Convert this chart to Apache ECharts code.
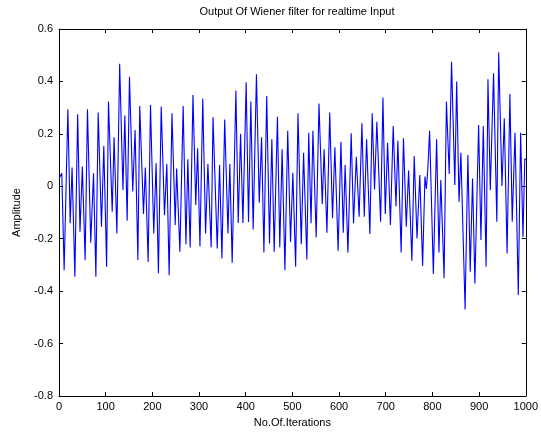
<!DOCTYPE html>
<html>
<head>
<meta charset="utf-8">
<script src="https://cdn.jsdelivr.net/npm/echarts@6/dist/echarts.min.js"></script>
<style>html,body{margin:0;padding:0;background:#fff}#c{width:541px;height:438px}</style>
</head>
<body>
<div id="c"></div>
<script>
var titleText = "Output Of Wiener filter for realtime Input";
var xLabel = "No.Of.Iterations";
var yLabel = "Amplitude";
var xTicks = [0,100,200,300,400,500,600,700,800,900,1000];
var yTicks = [-0.8,-0.6,-0.4,-0.2,0,0.2,0.4,0.6];

var iterations = [0,6,11,19,24,28,34,40,45,50,56,61,68,74,79,84,91,96,102,106,114,118,124,130,137,141,146,151,158,163,169,173,181,185,191,196,203,208,213,219,226,231,236,242,249,252,259,266,272,276,281,287,293,297,302,308,314,319,326,330,339,344,349,355,362,366,371,379,384,389,394,401,406,411,416,423,429,434,439,445,451,456,461,468,473,478,484,490,496,501,507,512,519,524,531,535,540,544,551,557,564,568,574,580,586,591,598,604,609,613,619,626,631,637,643,649,654,659,666,671,676,681,689,694,699,704,710,716,722,726,733,738,744,749,756,761,767,773,779,784,787,790,794,802,809,814,818,825,830,836,841,848,852,857,861,870,876,881,886,891,899,904,909,915,919,924,931,938,942,949,954,960,966,971,977,984,989,994,998,1000];
var amplitude = [0.03,0.05,-0.32,0.294,-0.141,0.072,-0.345,0.275,-0.173,0.075,-0.281,0.294,-0.215,0.05,-0.345,0.281,-0.154,0.154,-0.307,0.323,-0.097,0.187,-0.18,0.467,-0.014,0.27,-0.131,0.418,-0.02,0.215,-0.281,0.306,-0.106,0.072,-0.289,0.31,-0.18,0.088,-0.332,0.304,-0.11,0.085,-0.339,0.279,-0.148,0.068,-0.25,0.306,-0.221,0.103,-0.233,0.348,-0.071,0.145,-0.23,0.335,-0.18,0.085,-0.233,0.263,-0.237,0.081,-0.275,0.255,-0.18,0.085,-0.292,0.365,-0.14,0.2,-0.14,0.397,-0.136,0.323,-0.165,0.427,-0.063,0.187,-0.253,0.344,-0.218,0.179,-0.25,0.265,-0.233,0.141,-0.32,0.212,-0.212,0.052,-0.307,0.279,-0.221,0.128,-0.279,0.204,-0.141,0.212,-0.195,0.316,-0.068,0.141,-0.177,0.281,-0.122,0.149,-0.246,0.17,-0.177,0.081,-0.253,0.202,-0.141,0.113,-0.116,0.24,-0.116,0.179,-0.182,0.279,-0.012,0.246,-0.135,0.339,-0.106,0.166,-0.148,0.23,-0.076,0.174,-0.253,0.183,-0.154,0.06,-0.284,0.115,-0.199,0.043,-0.304,0.037,-0.01,0.06,0.212,-0.335,0.179,-0.253,0.024,-0.351,0.323,0.047,0.475,0.005,0.4,-0.059,0.128,-0.47,0.119,-0.326,0.03,-0.371,0.234,-0.205,0.23,-0.307,0.408,-0.014,0.431,-0.135,0.511,0.001,0.259,-0.256,0.352,-0.135,0.204,-0.415,0.204,-0.193,0.106,0.1];

var pts = iterations.map(function(x,i){return [x, amplitude[i]];});
var font = "'Liberation Sans', Arial, sans-serif";
var chart = echarts.init(document.getElementById('c'), null, {renderer:'canvas'});
function axisCommon(){
  return {
    axisLine:{show:true,onZero:false,lineStyle:{color:'#000',width:1}},
    axisTick:{show:true,inside:true,length:4,lineStyle:{color:'#000'}},
    splitLine:{show:false}
  };
}
chart.setOption({
  animation:false,
  backgroundColor:'#fff',
  title:{text:titleText,left:292,top:1,textAlign:'center',
    textStyle:{fontFamily:font,fontSize:11,fontWeight:'normal',color:'#000'}},
  grid:{left:59,right:15,top:29,bottom:42},
  xAxis:[
    Object.assign(axisCommon(),{type:'value',min:xTicks[0],max:xTicks[xTicks.length-1],interval:100,position:'bottom',
      name:xLabel,nameLocation:'middle',nameGap:21,
      nameTextStyle:{fontFamily:font,fontSize:11,color:'#000'},
      axisLabel:{fontFamily:font,fontSize:11,color:'#000',margin:5,
        formatter:function(v){return String(v);}}}),
    Object.assign(axisCommon(),{type:'value',min:0,max:1000,interval:100,position:'top',axisLabel:{show:false}})
  ],
  yAxis:[
    Object.assign(axisCommon(),{type:'value',min:yTicks[0],max:yTicks[yTicks.length-1],interval:0.2,position:'left',
      name:yLabel,nameLocation:'middle',nameGap:37,nameRotate:90,
      nameTextStyle:{fontFamily:font,fontSize:11,color:'#000'},
      axisLabel:{fontFamily:font,fontSize:11,color:'#000',margin:6,
        formatter:function(v){return (Math.round(v*10)/10).toString();}}}),
    Object.assign(axisCommon(),{type:'value',min:-0.8,max:0.6,interval:0.2,position:'right',axisLabel:{show:false}})
  ],
  series:[{type:'line',data:pts,showSymbol:false,symbol:'none',
    lineStyle:{color:'#0000ff',width:1.1},xAxisIndex:0,yAxisIndex:0}]
});
</script>
</body>
</html>
